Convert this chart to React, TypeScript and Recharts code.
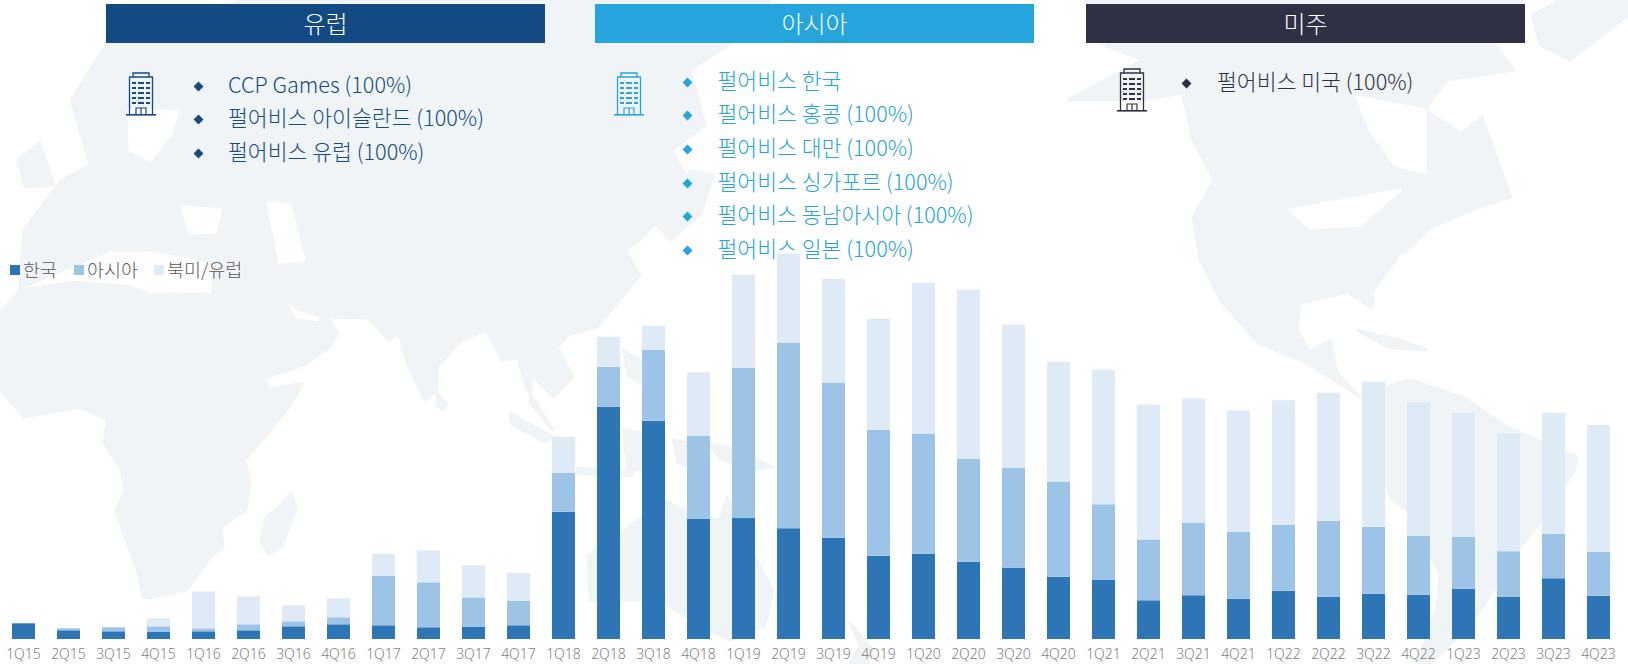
import { BarChart, Bar, XAxis, YAxis, Legend } from "recharts";

const FONT = '"Noto Sans CJK KR", "Noto Sans", sans-serif';

const quarters = [
  "1Q15", "2Q15", "3Q15", "4Q15", "1Q16", "2Q16", "3Q16", "4Q16", "1Q17", "2Q17", "3Q17", "4Q17",
  "1Q18", "2Q18", "3Q18", "4Q18", "1Q19", "2Q19", "3Q19", "4Q19", "1Q20", "2Q20", "3Q20", "4Q20",
  "1Q21", "2Q21", "3Q21", "4Q21", "1Q22", "2Q22", "3Q22", "4Q22", "1Q23", "2Q23", "3Q23", "4Q23",
];

const korea = [
  15.7, 8.7, 7.7, 7, 7.7, 8.7, 12.7, 14.7, 13.7, 11.7, 12.3, 13.7,
  127.3, 232.3, 218.3, 120.3, 121.3, 110.7, 101.3, 83.3, 85.3, 77.3, 71.3, 62.3,
  59, 38.7, 43.7, 40.3, 48.3, 42.3, 45.3, 44.3, 50.3, 42, 60.7, 43.3,
];
const asia = [
  0, 2, 4, 5.7, 3, 6, 5, 7, 49.3, 45, 29.3, 24.3,
  39, 40, 71, 82.7, 150, 185.7, 155.3, 126, 120.3, 103, 100, 95.3,
  75.7, 60.7, 72.7, 67, 65.7, 76, 67, 59, 51.7, 45.7, 44.3, 44,
];
const northAmericaEurope = [
  0, 0, 0, 8, 36.7, 28, 16, 19, 22.3, 32, 32, 28.3,
  36, 30, 24, 63.7, 93, 89, 103.7, 111, 150.7, 169.3, 143.3, 119.7,
  134.7, 135, 124, 121.3, 124.7, 128, 145, 133.7, 124.3, 117.7, 121.3, 126.7,
];

const europeOffices = ["CCP Games (100%)", "펄어비스 아이슬란드 (100%)", "펄어비스 유럽 (100%)"];
const asiaOffices = [
  "펄어비스 한국",
  "펄어비스 홍콩 (100%)",
  "펄어비스 대만 (100%)",
  "펄어비스 싱가포르 (100%)",
  "펄어비스 동남아시아 (100%)",
  "펄어비스 일본 (100%)",
];
const americaOffices = ["펄어비스 미국 (100%)"];

const chartData = quarters.map((q, i) => ({
  quarter: q,
  korea: korea[i],
  asia: asia[i],
  northAmericaEurope: northAmericaEurope[i],
}));

// rough world map behind the chart
const LAND = [
  // Africa
  "0,313 20,290 75,282 130,287 150,295 209,294 265,380 269,390 302,383 292,403 273,427 245,460 250,483 246,510 221,527 223,547 211,557 186,590 150,598 143,597 137,570 125,537 116,510 125,490 121,470 104,443 107,420 79,407 24,417 0,390",
  // Eurasia
  "20,288 20,273 24,230 46,200 62,180 90,165 71,100 107,43 160,30 243,0 770,0 731,43 690,70 705,125 672,150 690,185 640,240 625,250 640,275 620,300 597,327 569,335 557,347 573,377 553,397 532,375 530,403 553,430 526,387 518,358 502,360 486,330 462,340 437,367 437,390 425,400 407,363 399,333 389,340 368,318 324,317 300,310 282,297 296,320 320,323 322,310 338,333 330,347 304,365 265,378 212,296 215,262 150,250 110,250",
  // North America
  "1068,100 1143,60 1100,43 1085,0 1525,0 1493,43 1514,70 1447,80 1425,110 1461,133 1482,117 1500,167 1511,197 1472,210 1432,227 1404,253 1410,240 1373,290 1373,308 1347,292 1300,303 1297,330 1310,352 1330,340 1337,373 1360,397 1307,363 1258,343 1220,300 1200,260 1193,217 1214,180 1193,140 1182,93 1143,100",
  // South America
  "1387,387 1410,380 1463,397 1507,427 1577,457 1575,470 1540,523 1520,547 1483,607 1455,640 1430,664 1417,664 1437,607 1440,573 1407,510 1390,497 1383,473",
  // Greenland
  "1532,15 1560,0 1628,0 1628,15 1570,60 1540,45",
  // Australia
  "590,600 588,555 625,530 665,500 690,515 720,520 727,497 745,540 773,590 765,625 730,640 700,625 660,600 615,600",
  // islands
  "291,493 296,507 282,547 268,554 261,540 266,517 279,507",
  "707,443 740,450 773,467 750,470 720,458",
  "623,430 650,435 645,470 628,470",
  "510,413 553,437 545,442 512,425",
  "577,468 633,472 630,476 578,473",
  "623,350 640,360 640,383 628,375",
  "673,440 700,445 690,467 678,462",
  "437,393 447,405 442,410 437,405",
  "850,623 873,650 868,664 850,664 860,645",
  "1357,330 1400,340 1427,350 1390,348",
  "656,225 675,205 690,170 713,175 700,215 670,240",
  "18,160 40,143 54,185 25,187",
];
const SEA = [
  "129,110 178,112 170,135 150,160 130,150",
  "182,207 221,210 215,232 190,233",
  "268,203 290,205 304,260 280,262",
  "1357,97 1425,110 1425,173 1395,165 1370,130",
  "1290,210 1345,200 1400,190 1360,225 1310,228",
];

function WorldMap() {
  return (
    <svg width={1628} height={664} style={{ position: "absolute", left: 0, top: 0 }}>
      {LAND.map((p, i) => (
        <polygon key={i} points={p} fill="#f1f4f6" stroke="#f1f4f6" strokeWidth={3} strokeLinejoin="round" />
      ))}
      {SEA.map((p, i) => (
        <polygon key={i} points={p} fill="#ffffff" stroke="#ffffff" strokeWidth={3} strokeLinejoin="round" />
      ))}
    </svg>
  );
}

function Building({ x, y, color }: { x: number; y: number; color: string }) {
  const rows = [10, 15, 20, 25, 30];
  return (
    <svg width={30} height={44} style={{ position: "absolute", left: x, top: y }}>
      <path d="M3.5 43V5H26.5V43" fill="none" stroke={color} strokeWidth={1.3} />
      <path d="M7 5V1H23V5" fill="none" stroke={color} strokeWidth={1.3} />
      {rows.map((r) => (
        <g key={r}>
          <rect x={6} y={r} width={4} height={2} fill={color} />
          <rect x={12} y={r} width={6} height={2} fill={color} />
          <rect x={20} y={r} width={4} height={2} fill={color} />
        </g>
      ))}
      <path d="M10 43V36H20V43M15 36V43" fill="none" stroke={color} strokeWidth={1.2} />
      <rect x={0} y={42} width={30} height={1.6} fill={color} />
    </svg>
  );
}

function Header({ x, color, label }: { x: number; color: string; label: string }) {
  return (
    <div
      style={{
        position: "absolute",
        left: x,
        top: 4,
        width: 439,
        height: 39,
        lineHeight: "38px",
        background: color,
        color: "#fff",
        textAlign: "center",
        fontSize: 24,
        fontWeight: 300,
      }}
    >
      {label}
    </div>
  );
}

function OfficeList(props: { items: string[]; dotX: number; textX: number; ys: number[]; color: string }) {
  return (
    <>
      {props.items.map((item, i) => (
        <div key={item}>
          <div
            style={{
              position: "absolute",
              left: props.dotX - 3.5,
              top: props.ys[i] - 2,
              width: 7,
              height: 7,
              background: props.color,
              transform: "rotate(45deg)",
            }}
          />
          <div
            style={{
              position: "absolute",
              left: props.textX,
              top: props.ys[i] - 16,
              height: 30,
              lineHeight: "30px",
              fontSize: 21.6,
              fontWeight: 300,
              color: props.color,
              whiteSpace: "nowrap",
            }}
          >
            {item}
          </div>
        </div>
      ))}
    </>
  );
}

function ChartLegend({ payload }: any) {
  const lefts = [10, 74, 154];
  return (
    <div style={{ position: "relative", width: 300, height: 24 }}>
      {(payload ?? []).map((e: any, i: number) => (
        <div key={e.value}>
          <span
            style={{
              position: "absolute",
              left: lefts[i],
              top: 7,
              width: 10,
              height: 10,
              background: e.color,
            }}
          />
          <span
            style={{
              position: "absolute",
              left: lefts[i] + 13,
              top: -1,
              lineHeight: "24px",
              fontSize: 18.5,
              fontWeight: 300,
              color: "#595959",
              whiteSpace: "nowrap",
            }}
          >
            {e.value}
          </span>
        </div>
      ))}
    </div>
  );
}

export default function App() {
  return (
    <div style={{ position: "absolute", left: 0, top: 0, width: 1628, height: 664, overflow: "hidden", fontFamily: FONT, background: "#fff" }}>
      <WorldMap />

      <Header x={106} color="#134a84" label="유럽" />
      <Header x={595} color="#26a4de" label="아시아" />
      <Header x={1086} color="#2e3143" label="미주" />

      <Building x={126} y={72} color="#134a84" />
      <Building x={614} y={72} color="#26a4de" />
      <Building x={1117} y={68} color="#2e3143" />

      <OfficeList items={europeOffices} dotX={198} textX={228} ys={[85, 118, 152]} color="#134a84" />
      <OfficeList items={asiaOffices} dotX={687.5} textX={717.5} ys={[81, 114, 148, 182, 215, 249]} color="#26a4de" />
      <OfficeList items={americaOffices} dotX={1186.5} textX={1217} ys={[82]} color="#2e3143" />

      <div style={{ position: "absolute", left: 0, top: 0 }}>
        <BarChart
          width={1628}
          height={664}
          data={chartData}
          barSize={23}
          margin={{ top: 239, right: 7, bottom: 0, left: 1 }}
        >
          <XAxis
            dataKey="quarter"
            interval={0}
            height={25}
            axisLine={false}
            tickLine={false}
            tickMargin={4}
            tick={{ fontSize: 14, fontWeight: 300, fill: "#7f7f7f", fontFamily: '"Noto Sans", sans-serif' }}
          />
          <YAxis width={0} tick={false} axisLine={false} tickLine={false} domain={[0, 400]} />
          <Legend
            layout="horizontal"
            align="center"
            verticalAlign="middle"
            itemSorter={null}
            content={<ChartLegend />}
            wrapperStyle={{ position: "absolute", left: 0, top: 258, width: 300, height: 24, bottom: "auto" }}
          />
          <Bar dataKey="korea" name="한국" stackId="a" fill="#2e75b6" isAnimationActive={false} />
          <Bar dataKey="asia" name="아시아" stackId="a" fill="#9dc3e6" isAnimationActive={false} />
          <Bar dataKey="northAmericaEurope" name="북미/유럽" stackId="a" fill="#deebf7" isAnimationActive={false} />
        </BarChart>
      </div>
    </div>
  );
}
